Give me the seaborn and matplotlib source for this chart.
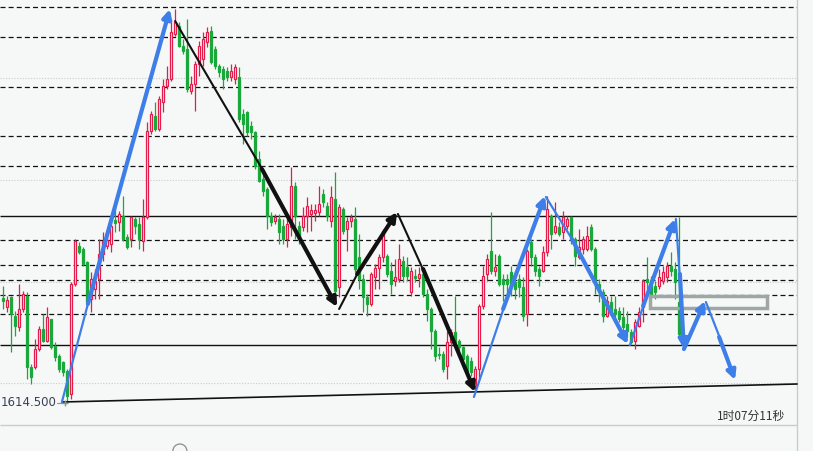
import matplotlib
matplotlib.use("Agg")
import matplotlib.pyplot as plt
from matplotlib.patches import Rectangle, Arc
import seaborn as sns

sns.set_style("white")
plt.rcParams['font.family'] = ['Noto Sans CJK SC', 'DejaVu Sans']

# candle prices, one per bar (open / close / high / low)
opens = [
    1624.9, 1624.0, 1625.0, 1623.1, 1622.0, 1623.8, 1625.1, 1618.0, 1618.0, 1619.8,
    1621.8, 1620.6, 1622.8, 1620.1, 1619.1, 1618.5, 1617.6, 1615.3, 1626.3, 1630.1,
    1629.8, 1628.5, 1624.8, 1625.8, 1626.8, 1629.3, 1630.1, 1630.3, 1632.7, 1632.5,
    1633.1, 1631.0, 1630.8, 1632.8, 1632.3, 1630.6, 1633.0, 1641.6, 1643.1, 1641.8,
    1644.5, 1646.1, 1646.8, 1651.3, 1652.1, 1650.1, 1649.8, 1645.6, 1646.3, 1648.3,
    1648.8, 1650.5, 1651.6, 1649.8, 1648.1, 1647.8, 1647.6, 1647.0, 1646.8, 1647.0,
    1643.3, 1643.5, 1642.1, 1641.5, 1638.8, 1636.8, 1635.8, 1633.1, 1632.6, 1632.8,
    1632.1, 1630.8, 1632.0, 1636.1, 1632.1, 1632.0, 1633.1, 1633.3, 1633.4, 1633.5,
    1635.3, 1634.1, 1632.6, 1634.8, 1626.0, 1633.8, 1631.8, 1632.6, 1632.8, 1629.0,
    1626.8, 1625.0, 1624.3, 1627.0, 1627.9, 1629.0, 1629.1, 1627.6, 1626.6, 1626.8,
    1628.6, 1628.0, 1625.5, 1627.1, 1626.9, 1627.3, 1625.3, 1623.8, 1621.6, 1619.3,
    1619.3, 1618.1, 1620.5, 1621.5, 1620.6, 1620.0, 1619.1, 1618.6, 1616.1, 1617.8,
    1624.1, 1627.3, 1629.6, 1627.6, 1629.1, 1626.8, 1626.8, 1627.5, 1626.5, 1626.8,
    1626.0, 1623.3, 1630.5, 1629.0, 1627.8, 1627.6, 1629.5, 1633.1, 1631.5, 1632.0,
    1631.5, 1632.1, 1633.0, 1630.8, 1629.0, 1629.8, 1629.8, 1632.0, 1629.8, 1626.3,
    1625.5, 1623.1, 1624.5, 1623.8, 1623.6, 1623.0, 1622.3, 1621.5, 1620.6, 1622.1,
    1624.0, 1626.8, 1626.5, 1626.1, 1626.1, 1626.6, 1627.0, 1628.1, 1627.8, 1624.5,
]
closes = [
    1624.6, 1624.7, 1623.3, 1622.1, 1623.8, 1625.3, 1618.0, 1617.0, 1619.8, 1621.8,
    1620.6, 1623.0, 1620.0, 1619.0, 1617.8, 1617.5, 1615.1, 1626.3, 1630.6, 1629.5,
    1628.3, 1624.5, 1626.8, 1626.6, 1629.3, 1630.6, 1630.7, 1632.1, 1632.4, 1633.3,
    1630.8, 1630.0, 1633.0, 1632.1, 1630.8, 1633.0, 1641.6, 1643.3, 1641.8, 1644.8,
    1646.1, 1646.8, 1651.5, 1652.5, 1650.1, 1649.6, 1645.8, 1646.3, 1648.3, 1650.1,
    1650.8, 1651.5, 1648.5, 1648.1, 1647.5, 1646.8, 1647.0, 1647.6, 1648.0, 1642.8,
    1642.3, 1641.5, 1641.5, 1638.1, 1636.6, 1635.6, 1633.1, 1632.5, 1633.0, 1631.5,
    1630.8, 1632.3, 1636.1, 1633.1, 1630.8, 1633.1, 1634.1, 1633.7, 1633.7, 1634.3,
    1634.5, 1633.1, 1635.0, 1625.6, 1634.0, 1631.6, 1632.6, 1633.0, 1627.8, 1626.8,
    1625.0, 1624.3, 1627.3, 1627.9, 1629.0, 1631.6, 1627.3, 1626.3, 1627.0, 1628.8,
    1627.1, 1627.1, 1627.6, 1626.9, 1627.3, 1625.3, 1623.8, 1621.6, 1619.1, 1619.2,
    1617.8, 1620.5, 1621.5, 1620.1, 1620.0, 1618.8, 1617.5, 1617.5, 1617.8, 1624.1,
    1627.1, 1628.8, 1627.6, 1628.0, 1626.3, 1626.3, 1626.3, 1626.1, 1625.8, 1626.0,
    1623.1, 1629.6, 1629.0, 1627.6, 1627.1, 1629.5, 1633.8, 1631.3, 1632.1, 1631.3,
    1633.0, 1632.8, 1630.8, 1629.1, 1630.0, 1630.8, 1631.1, 1629.8, 1626.5, 1625.5,
    1623.1, 1624.6, 1623.6, 1623.3, 1622.8, 1622.0, 1621.6, 1620.5, 1622.5, 1623.5,
    1626.6, 1626.5, 1625.3, 1625.5, 1627.0, 1627.5, 1628.1, 1627.6, 1626.5, 1621.3,
]
highs = [
    1626.1, 1625.1, 1625.1, 1623.6, 1626.3, 1625.6, 1625.5, 1618.3, 1620.8, 1622.1,
    1623.3, 1624.0, 1622.8, 1620.5, 1619.3, 1618.6, 1617.8, 1626.5, 1630.8, 1630.5,
    1630.0, 1628.6, 1627.5, 1627.8, 1630.8, 1631.5, 1631.3, 1632.5, 1634.6, 1633.6,
    1635.1, 1631.3, 1633.1, 1633.0, 1633.0, 1634.8, 1642.5, 1643.6, 1644.5, 1645.1,
    1646.8, 1648.1, 1652.8, 1653.8, 1652.5, 1650.8, 1652.8, 1647.1, 1648.6, 1650.6,
    1651.5, 1652.0, 1652.1, 1650.1, 1648.3, 1648.1, 1648.0, 1648.3, 1648.3, 1648.0,
    1643.8, 1643.6, 1642.6, 1641.6, 1639.6, 1637.3, 1636.0, 1633.5, 1633.3, 1633.3,
    1632.8, 1633.3, 1638.0, 1636.5, 1632.6, 1634.0, 1635.0, 1634.3, 1634.3, 1636.1,
    1635.8, 1634.5, 1636.1, 1637.5, 1634.3, 1634.0, 1633.0, 1633.3, 1634.0, 1631.3,
    1627.3, 1625.3, 1627.5, 1628.3, 1629.3, 1631.8, 1629.3, 1628.5, 1628.8, 1630.3,
    1629.1, 1629.0, 1628.0, 1627.8, 1628.0, 1627.6, 1625.8, 1624.0, 1621.8, 1620.0,
    1619.6, 1621.6, 1621.8, 1625.1, 1620.8, 1620.1, 1619.3, 1619.0, 1618.1, 1624.3,
    1628.1, 1629.3, 1633.5, 1629.3, 1629.3, 1627.3, 1627.3, 1628.1, 1627.1, 1627.3,
    1627.0, 1629.8, 1630.8, 1629.3, 1628.1, 1630.1, 1635.1, 1633.3, 1634.5, 1632.5,
    1633.6, 1633.1, 1633.1, 1631.0, 1631.8, 1631.1, 1632.1, 1632.3, 1630.0, 1626.8,
    1625.8, 1625.1, 1625.1, 1625.1, 1624.0, 1624.0, 1623.6, 1621.8, 1622.8, 1624.0,
    1626.8, 1629.0, 1627.1, 1626.6, 1627.8, 1628.1, 1628.5, 1629.5, 1628.5, 1633.0,
]
lows = [
    1623.8, 1623.5, 1619.5, 1621.1, 1621.6, 1623.5, 1616.8, 1616.3, 1617.8, 1619.6,
    1620.5, 1620.5, 1619.8, 1618.6, 1617.5, 1617.1, 1614.5, 1614.8, 1626.1, 1629.3,
    1628.1, 1624.3, 1623.5, 1624.8, 1624.8, 1628.6, 1629.8, 1629.5, 1631.5, 1631.6,
    1630.6, 1629.8, 1630.0, 1631.3, 1629.8, 1629.6, 1632.8, 1641.3, 1641.6, 1641.6,
    1643.5, 1645.8, 1646.6, 1651.1, 1650.0, 1649.3, 1645.5, 1645.3, 1643.6, 1647.1,
    1648.1, 1650.0, 1648.3, 1647.8, 1647.0, 1645.8, 1646.6, 1646.6, 1646.3, 1642.5,
    1640.3, 1641.1, 1640.8, 1637.8, 1636.5, 1635.1, 1631.8, 1632.1, 1632.3, 1630.3,
    1630.3, 1630.0, 1631.1, 1630.8, 1630.3, 1631.6, 1631.5, 1631.6, 1632.6, 1633.1,
    1634.0, 1632.6, 1632.0, 1624.3, 1625.0, 1631.3, 1629.6, 1632.0, 1627.5, 1625.8,
    1623.5, 1623.1, 1624.1, 1625.8, 1625.8, 1628.5, 1627.0, 1625.3, 1626.1, 1626.5,
    1626.5, 1626.6, 1625.1, 1626.5, 1626.0, 1625.0, 1622.6, 1619.8, 1618.6, 1618.8,
    1617.5, 1616.8, 1619.1, 1620.0, 1619.1, 1618.5, 1617.3, 1617.1, 1615.5, 1616.8,
    1623.8, 1626.6, 1627.3, 1627.1, 1626.1, 1624.6, 1625.1, 1625.1, 1624.8, 1625.0,
    1622.6, 1622.1, 1628.1, 1627.1, 1626.1, 1627.5, 1629.1, 1629.8, 1631.3, 1631.1,
    1630.8, 1631.8, 1630.3, 1628.1, 1628.8, 1629.3, 1629.6, 1629.6, 1625.3, 1624.5,
    1622.5, 1623.0, 1623.5, 1623.0, 1622.5, 1621.1, 1621.0, 1620.3, 1619.8, 1622.0,
    1622.5, 1625.8, 1625.0, 1624.8, 1625.8, 1626.3, 1626.5, 1627.1, 1624.8, 1621.0,
]

# horizontal reference levels
dashed_levels = [1654.0, 1651.0, 1646.0, 1641.1, 1638.1, 1630.7, 1628.2, 1626.7, 1625.2, 1623.3]
solid_levels = [1633.1, 1620.2]
grid_levels = [1646.9, 1636.7, 1626.5, 1616.4]

# trend line (bar index, price)
trend_x = [14.8, 198.6]
trend_y = [1614.5, 1616.3]

# hand-drawn wave arrows: thin lead-in lines and thick arrows
blue_thin = [((14.8, 1614.5), (21.3, 1624.3)), ((117.8, 1615.0), (125.6, 1624.3)),
             ((135.8, 1635.0), (143.1, 1630.3)), ((156.8, 1620.2), (160.6, 1624.6)),
             ((168.3, 1632.8), (169.3, 1626.8)), ((175.8, 1624.5), (179.6, 1620.6))]
blue_arrows = [((21.3, 1624.3), (41.8, 1653.8)), ((125.1, 1623.8), (135.6, 1635.1)),
               ((142.3, 1630.8), (156.3, 1620.3)), ((160.1, 1624.1), (168.1, 1632.8)),
               ((169.3, 1627.3), (170.3, 1619.8)), ((170.3, 1619.8), (175.6, 1624.6)),
               ((179.1, 1621.0), (183.1, 1616.7))]
black_thin = [((43.1, 1652.6), (65.6, 1637.3)), ((84.1, 1623.8), (89.3, 1627.8)),
              ((98.8, 1633.3), (105.6, 1627.3))]
black_arrows = [((64.8, 1637.8), (83.6, 1624.0)), ((88.6, 1627.3), (98.6, 1633.5)),
                ((105.1, 1627.8), (118.1, 1615.5))]

# target zone box (bar index range, price range)
zone_x = [161.8, 191.1]
zone_y = [1623.9, 1625.1]

low_label = "1614.500"
countdown = "1时07分11秒"

bg = "#f5f8f7"
red = "#e31c4b"
green = "#1aa83a"
blue = "#3d7ee8"

fig = plt.figure(figsize=(8.13, 4.52), dpi=100, facecolor=bg)
ax = fig.add_axes([0, 0, 1, 1])
ax.set_facecolor(bg)
ax.set_xlim(-0.675, 202.575)
ax.set_ylim(1609.6, 1654.8)
ax.set_axis_off()

right_edge = 198.6
ax.hlines(grid_levels, -0.675, right_edge, colors="#c9cdcd", linewidth=0.8,
          linestyles=[(0, (1, 1.5))], zorder=1)
ax.hlines(dashed_levels, -0.675, right_edge, colors="#111111", linewidth=0.9,
          linestyles=[(0, (4, 2.5))], zorder=1)
ax.hlines(solid_levels, -0.675, right_edge, colors="#111111", linewidth=1.0, zorder=1)
ax.hlines([1612.2], -0.675, right_edge, colors="#c5cdcd", linewidth=1.0, zorder=1)
ax.axvline(right_edge, color="#c5cdcd", linewidth=1.0, zorder=1)

# candles
for i, (o, c, h, l) in enumerate(zip(opens, closes, highs, lows)):
    up = c >= o
    col = red if up else green
    ax.vlines(i, l, h, color=col, linewidth=0.9, zorder=2)
    body = max(abs(c - o), 0.12)
    ax.bar(i, body, bottom=min(o, c), width=0.6,
           color=bg if up else col, edgecolor=col, linewidth=0.9, zorder=3)

ax.plot(trend_x, trend_y, color="#111111", linewidth=1.2, zorder=4)

for (x0, y0), (x1, y1) in blue_thin:
    ax.plot([x0, x1], [y0, y1], color=blue, linewidth=1.6, zorder=5,
            solid_capstyle="round")
for (x0, y0), (x1, y1) in blue_arrows:
    ax.annotate("", xy=(x1, y1), xytext=(x0, y0),
                arrowprops=dict(arrowstyle="-|>", color=blue, lw=3.0,
                                mutation_scale=13, shrinkA=0, shrinkB=0), zorder=5)
for (x0, y0), (x1, y1) in black_thin:
    ax.plot([x0, x1], [y0, y1], color="#111111", linewidth=1.5, zorder=5)
for (x0, y0), (x1, y1) in black_arrows:
    ax.annotate("", xy=(x1, y1), xytext=(x0, y0),
                arrowprops=dict(arrowstyle="-|>", color="#111111", lw=3.0,
                                mutation_scale=13, shrinkA=0, shrinkB=0), zorder=5)

ax.add_patch(Rectangle((zone_x[0], zone_y[0]), zone_x[1] - zone_x[0], zone_y[1] - zone_y[0],
                       fill=False, edgecolor="#9ea6a6", linewidth=2.5, zorder=4))

ax.text(-0.5, 1614.5, low_label, ha="left", va="center", fontsize=8.5,
        color="#3a3f55", family=["DejaVu Sans"], zorder=6)
ax.plot([13.6, 15.6], [1614.4, 1614.4], color="#8a90a0", linewidth=0.8, zorder=6)
ax.plot([15.6], [1614.4], marker="+", color="#8a90a0", markersize=5, zorder=6)
ax.text(195.6, 1613.2, countdown, ha="right", va="center", fontsize=8.5,
        color="#333333", zorder=6)
ax.add_patch(Arc((44.3, 1609.6), 3.5, 1.4, theta1=0, theta2=180,
                 color="#8a8a8a", linewidth=0.9))

fig.savefig("out.png", dpi=100, facecolor=bg)
